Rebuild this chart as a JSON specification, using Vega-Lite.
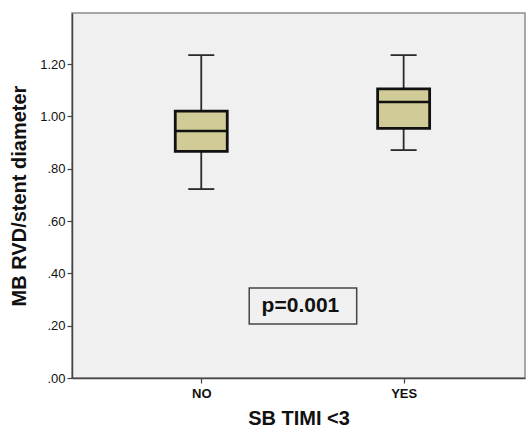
{
  "$schema": "https://vega.github.io/schema/vega-lite/v6.json",
  "autosize": {"type": "none"},
  "padding": {"left": 72, "top": 13, "right": 1, "bottom": 49},
  "width": 453,
  "height": 365,
  "background": "white",
  "config": {
    "view": {"fill": "#f0f0f0", "stroke": "#8c8c8c", "strokeWidth": 1.5},
    "font": "Liberation Sans",
    "axis": {
      "domainColor": "#444444", "domainWidth": 1.5,
      "tickColor": "#444444", "tickWidth": 1.2, "tickSize": 5,
      "labelFont": "Liberation Sans", "labelFontSize": 13, "labelColor": "#111111",
      "titleFont": "Liberation Sans", "titleFontSize": 20, "titleFontWeight": "bold", "titleColor": "#111111",
      "grid": false
    }
  },
  "datasets": {
    "boxes": [
      {"group": 0, "label": "NO", "lower": 0.722, "q1": 0.866, "median": 0.944, "q3": 1.02, "upper": 1.234},
      {"group": 1, "label": "YES", "lower": 0.871, "q1": 0.954, "median": 1.055, "q3": 1.105, "upper": 1.234}
    ],
    "note": [
      {"x1": 0.237, "x2": 0.768, "y1": 0.206, "y2": 0.344, "xc": 0.5, "yc": 0.275, "text": "p=0.001"}
    ]
  },
  "layer": [
    {
      "data": {"name": "boxes"},
      "mark": {"type": "rule", "color": "#2a2a2a", "strokeWidth": 1.8},
      "encoding": {
        "x": {"field": "group", "type": "quantitative",
          "scale": {"domain": [-0.614, 1.575], "nice": false, "zero": false},
          "axis": {"values": [0, 1], "labelExpr": "datum.value == 0 ? 'NO' : 'YES'", "labelFontWeight": "bold", "labelPadding": 4, "title": "SB TIMI <3", "titlePadding": 8}},
        "y": {"field": "lower", "type": "quantitative",
          "scale": {"domain": [0, 1.395], "nice": false},
          "axis": {"values": [0, 0.2, 0.4, 0.6, 0.8, 1.0, 1.2], "labelExpr": "replace(format(datum.value, '.2f'), /^0\\./, '.')", "labelPadding": 2, "title": "MB RVD/stent diameter", "titlePadding": 10}},
        "y2": {"field": "upper"}
      }
    },
    {
      "data": {"name": "boxes"},
      "mark": {"type": "tick", "orient": "horizontal", "color": "#2a2a2a", "size": 26, "thickness": 1.8, "opacity": 1},
      "encoding": {
        "x": {"field": "group", "type": "quantitative"},
        "y": {"field": "lower", "type": "quantitative"}
      }
    },
    {
      "data": {"name": "boxes"},
      "mark": {"type": "tick", "orient": "horizontal", "color": "#2a2a2a", "size": 26, "thickness": 1.8, "opacity": 1},
      "encoding": {
        "x": {"field": "group", "type": "quantitative"},
        "y": {"field": "upper", "type": "quantitative"}
      }
    },
    {
      "data": {"name": "boxes"},
      "mark": {"type": "bar", "orient": "vertical", "size": 52, "fill": "#d1cc97", "stroke": "#111111", "strokeWidth": 2.8},
      "encoding": {
        "x": {"field": "group", "type": "quantitative"},
        "y": {"field": "q1", "type": "quantitative"},
        "y2": {"field": "q3"}
      }
    },
    {
      "data": {"name": "boxes"},
      "mark": {"type": "tick", "orient": "horizontal", "color": "#111111", "size": 52, "thickness": 2.6, "opacity": 1},
      "encoding": {
        "x": {"field": "group", "type": "quantitative"},
        "y": {"field": "median", "type": "quantitative"}
      }
    },
    {
      "data": {"name": "note"},
      "mark": {"type": "rect", "fill": "#f0f0f0", "stroke": "#444444", "strokeWidth": 1.5},
      "encoding": {
        "x": {"field": "x1", "type": "quantitative"},
        "x2": {"field": "x2"},
        "y": {"field": "y1", "type": "quantitative"},
        "y2": {"field": "y2"}
      }
    },
    {
      "data": {"name": "note"},
      "mark": {"type": "text", "font": "Liberation Sans", "fontSize": 21, "fontWeight": "bold", "color": "#111111", "align": "center", "baseline": "middle", "dx": -2},
      "encoding": {
        "x": {"field": "xc", "type": "quantitative"},
        "y": {"field": "yc", "type": "quantitative"},
        "text": {"field": "text"}
      }
    }
  ]
}
